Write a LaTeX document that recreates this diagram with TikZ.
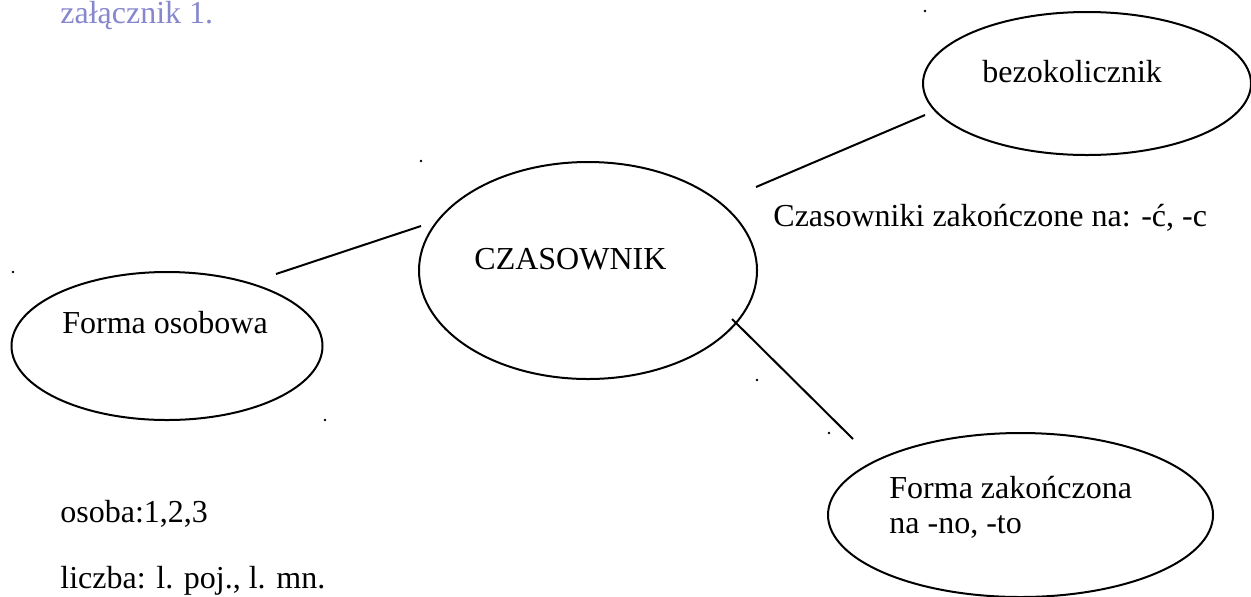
\documentclass[tikz,border=0pt]{standalone}
\usepackage{fontspec}
\setmainfont{Liberation Serif}
\usetikzlibrary{shapes.geometric}
\definecolor{lav}{RGB}{135,135,205}
\begin{document}
\begin{tikzpicture}[x=0.5pt,y=-0.5pt,
  oval/.style={draw, ellipse, line width=1pt, inner sep=0pt},
  lbl/.style={anchor=base west, inner sep=0pt, font=\fontsize{16}{17.5}\selectfont},
  conn/.style={line width=1pt},
  speck/.style={fill=black}]
\useasboundingbox (0,0) rectangle (1251,596);
\clip (0,0) rectangle (1251,596);
% ellipses
\node[oval, minimum width=155.5pt, minimum height=74pt] (osob) at (167,346) {};
\node[oval, minimum width=169pt, minimum height=108.5pt] (czas) at (588,270.5) {};
\node[oval, minimum width=164pt, minimum height=71.5pt] (bezo) at (1087,83.5) {};
\node[oval, minimum width=192.5pt, minimum height=82pt] (zako) at (1020.5,515) {};
% texts
\node[lbl, text=lav] (zal) at (60,23) {załącznik 1.};
\node[lbl] (tosob) at (62,333) {Forma osobowa};
\node[lbl] (tczas) at (474,269) {CZASOWNIK};
\node[lbl] (tbezo) at (982,82) {bezokolicznik};
\node[lbl] (tzak1) at (889,498) {Forma zakończona};
\node[lbl] (tzak2) at (889,533) {na -no, -to};
\node[lbl] (tcz) at (773,226) {Czasowniki zakończone na: -ć, -c};
\node[lbl] (tos) at (60,522) {osoba:1,2,3};
\node[lbl] (tlic) at (60,588) {liczba: l. poj., l. mn.};
% connector end points
\coordinate (a1) at (276,274);
\coordinate (a2) at (421,226);
\coordinate (b1) at (756,187);
\coordinate (b2) at (925,115);
\coordinate (c1) at (732,319);
\coordinate (c2) at (853,439);
\draw[conn] (a1) -- (a2);
\draw[conn] (b1) -- (b2);
\draw[conn] (c1) -- (c2);
% stray dots
\fill[speck] (925,11) circle (1.4);
\fill[speck] (421,161) circle (1.4);
\fill[speck] (13,272) circle (1.4);
\fill[speck] (325,420) circle (1.4);
\fill[speck] (757,380) circle (1.4);
\fill[speck] (829,433) circle (1.4);
\end{tikzpicture}
\end{document}
